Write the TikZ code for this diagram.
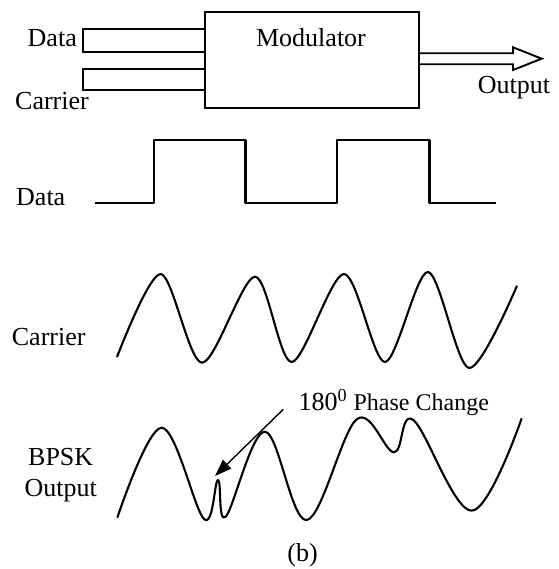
\documentclass[tikz,border=0pt]{standalone}
\usepackage{fontspec}
\setmainfont{Liberation Serif}
\usetikzlibrary{arrows.meta}

\begin{document}
\begin{tikzpicture}[x=1pt,y=-1pt,
    lbl/.style={inner sep=0pt,font=\fontsize{26}{31}\selectfont},
    block/.style={draw,line width=1.9pt,minimum width=214pt,minimum height=96pt,inner sep=0pt},
    edge/.style={line width=1.9pt,line join=miter},
    wave/.style={line width=2.1pt,line join=round},
    pointer/.style={line width=1.4pt,-{Triangle[length=17pt,width=12pt]}}]
      \useasboundingbox (0,0) rectangle (558,569);
      % modulator block
      \node[block] (mod) at (312,59.8) {};
      \node[lbl,anchor=base] (modtxt) at (311,46.7) {Modulator};
      \draw[edge] (mod.west |- 0,29.3) -- (83.3,29.3) -- (83.3,52.3) -- (mod.west |- 0,52.3);
      \draw[edge] (mod.west |- 0,69) -- (83.3,69) -- (83.3,90) -- (mod.west |- 0,90);
      \node[lbl,anchor=base east] (indata) at (77,46.7) {Data};
      \node[lbl,anchor=base west] (incarrier) at (15,110) {Carrier};
      \draw[edge] (mod.east |- 0,53.3) -- (513,53.3) -- (513,47.3) -- (541.7,58.7)
            -- (513,70) -- (513,64.3) -- (mod.east |- 0,64.3);
      \node[lbl,anchor=base west] (outlbl) at (477.7,94) {Output};
      % data signal
      \draw[wave] (95,203) -- (153.7,203) -- (153.7,140) -- (245.5,140) -- (245.5,203)
            -- (337,203) -- (337,140) -- (429.5,140) -- (429.5,203) -- (496.4,203);
      \node[lbl,anchor=base west] (datalbl) at (16,205) {Data};
      % carrier
      \draw[wave] plot[smooth] coordinates {(117,357) (160.7,274) (202,362.7) (255,276.7)
            (291.7,362) (344,274) (385,362) (428,272) (469,368) (517,285.7)};
      \node[lbl,anchor=base west] (carrierlbl) at (11.7,345) {Carrier};
      % bpsk output
      \draw[wave] plot[smooth,tension=0.6] coordinates {(117.3,517.7) (161.7,427.7) (204,519)
            (218,480) (225.7,516.7) (265,431.7) (306.7,520) (356.7,419.3) (394,452.3)
            (413.3,420) (471.7,510.7) (521.7,418.3)};
      \node[lbl,anchor=base] (bpsklbl) at (60.7,465.7) {BPSK};
      \node[lbl,anchor=base] (bpskout) at (60.7,496.7) {Output};
      \node[inner sep=0pt,anchor=base west] (phase) at (298.3,410.7)
            {\fontsize{26}{31}\selectfont 180\textsuperscript{0} \fontsize{24}{29}\selectfont Phase Change};
      \coordinate (arrstart) at (283.3,409.3);
      \coordinate (spike) at (215,476);
      \draw[pointer] (arrstart) -- (spike);
      %\draw (spike) circle (2pt);
      \node[lbl,anchor=base] (caption) at (302.5,561) {(b)};
    \end{tikzpicture}
\end{document}
